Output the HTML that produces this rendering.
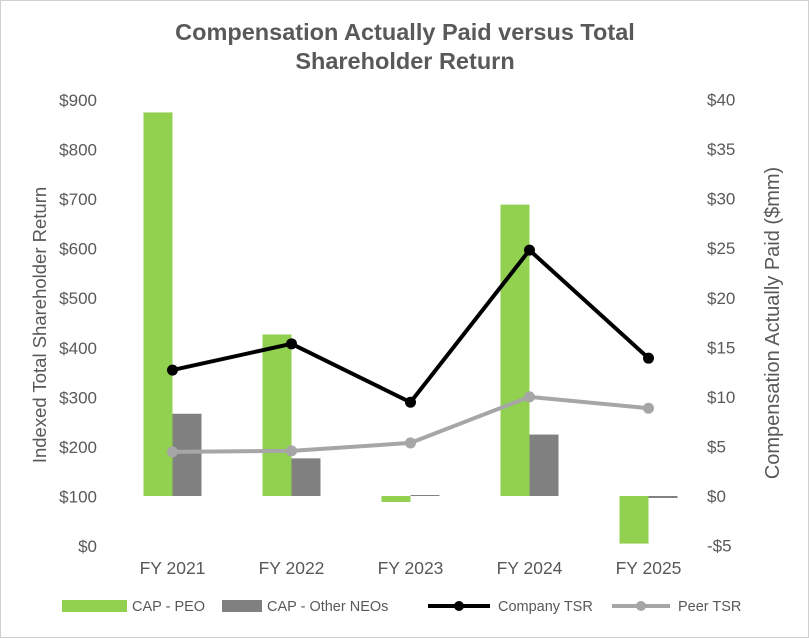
<!DOCTYPE html>
<html><head><meta charset="utf-8"><style>
body{margin:0;background:#fff;}
svg{display:block;font-family:"Liberation Sans",Arial,sans-serif;}
</style></head><body>
<svg id="chart" width="809" height="638">
<rect x="0.5" y="0.5" width="808" height="637" fill="#fff" stroke="#d0d0d0"/>
<text x="405" y="40" text-anchor="middle" font-size="23.5" font-weight="bold" fill="#595959">Compensation Actually Paid versus Total</text>
<text x="405" y="69" text-anchor="middle" font-size="23.5" font-weight="bold" fill="#595959">Shareholder Return</text>
<text transform="translate(46,325) rotate(-90)" text-anchor="middle" font-size="18.5" fill="#595959">Indexed Total Shareholder Return</text>
<text transform="translate(779,323) rotate(-90)" text-anchor="middle" font-size="20" fill="#595959">Compensation Actually Paid ($mm)</text>
<g id="marks"></g>
<g id="legend">
<rect x="62" y="600" width="65" height="12" fill="#92d050"/>
<text x="132" y="611" font-size="14.5" fill="#595959">CAP - PEO</text>
<rect x="222" y="600" width="40" height="12" fill="#808080"/>
<text x="267" y="611" font-size="14.5" fill="#595959">CAP - Other NEOs</text>
<line x1="428" y1="606" x2="490" y2="606" stroke="#000" stroke-width="4"/>
<circle cx="459" cy="606" r="5" fill="#000"/>
<text x="498" y="611" font-size="14.5" fill="#595959">Company TSR</text>
<line x1="612" y1="606" x2="670" y2="606" stroke="#a6a6a6" stroke-width="4"/>
<circle cx="641" cy="606" r="5" fill="#a6a6a6"/>
<text x="678" y="611" font-size="14.5" fill="#595959">Peer TSR</text>
</g>
</svg>
<script>
const categories=["FY 2021","FY 2022","FY 2023","FY 2024","FY 2025"];
const capPeo=[38.7,16.3,-0.6,29.4,-4.8];
const capOther=[8.3,3.8,0.1,6.2,-0.2];
const companyTsr=[355,408,290,597,379];
const peerTsr=[190,192,208,301,278];
const leftTicks=[0,100,200,300,400,500,600,700,800,900];
const rightTicks=[-5,0,5,10,15,20,25,30,35,40];
const NS="http://www.w3.org/2000/svg";
const g=document.getElementById('marks');
const yL=v=>546-v*(446/900);
const yR=v=>496-v*(446/45);
const x0=113,step=119;
const xC=i=>x0+step*(i+0.5);
function mk(t,a){const e=document.createElementNS(NS,t);for(const k in a)e.setAttribute(k,a[k]);g.appendChild(e);return e;}
leftTicks.forEach(v=>{const t=mk('text',{x:97,y:yL(v)+6,'text-anchor':'end','font-size':17,fill:'#595959'});t.textContent='$'+v;

});
rightTicks.forEach(v=>{const t=mk('text',{x:707,y:yR(v)+6,'font-size':17,fill:'#595959'});t.textContent=(v<0?'-$'+(-v):'$'+v);

});
categories.forEach((c,i)=>{const t=mk('text',{x:xC(i),y:574,'text-anchor':'middle','font-size':17.5,fill:'#595959'});t.textContent=c;

});
const bw=29;
capPeo.forEach((v,i)=>{const y=Math.min(yR(v),yR(0)),h=Math.abs(yR(v)-yR(0));const r=mk('rect',{x:xC(i)-bw,y:y,width:bw,height:h,fill:'#92d050'});

});
capOther.forEach((v,i)=>{const y=Math.min(yR(v),yR(0)),h=Math.max(1,Math.abs(yR(v)-yR(0)));const r=mk('rect',{x:xC(i),y:y,width:bw,height:h,fill:'#808080'});

});
function line(arr,col,name){const p=mk('polyline',{points:arr.map((v,i)=>xC(i)+','+yL(v)).join(' '),fill:'none',stroke:col,'stroke-width':4,'stroke-linejoin':'round'});


arr.forEach((v,i)=>{const c=mk('circle',{cx:xC(i),cy:yL(v),r:5.5,fill:col});

});}
line(peerTsr,'#a6a6a6','peer-tsr');
line(companyTsr,'#000','company-tsr');
</script>
</body></html>
